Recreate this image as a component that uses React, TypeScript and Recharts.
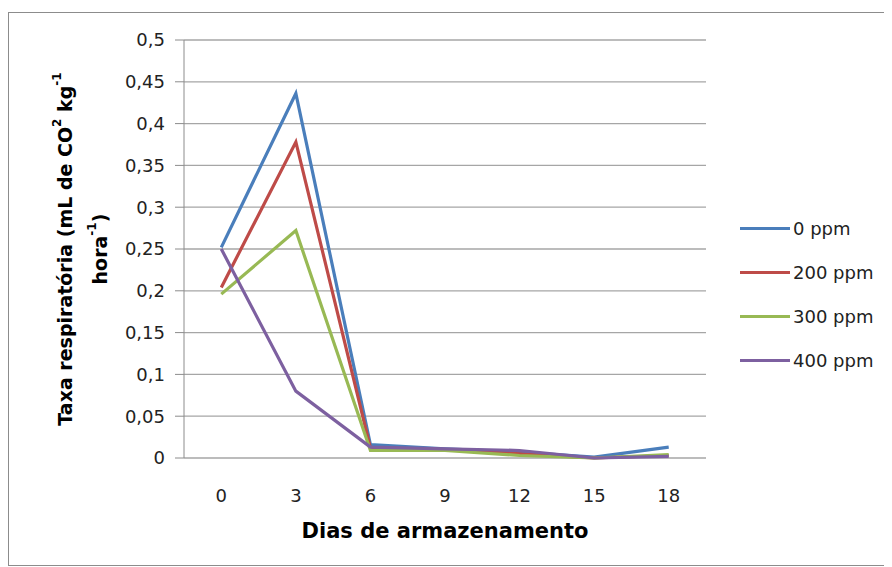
import React from 'react';
import { LineChart, Line, XAxis, YAxis, CartesianGrid } from 'recharts';

const dias = [0, 3, 6, 9, 12, 15, 18];
const ppm0 = [0.252, 0.436, 0.016, 0.011, 0.007, 0.001, 0.013];
const ppm200 = [0.204, 0.378, 0.012, 0.01, 0.005, 0.0, 0.003];
const ppm300 = [0.196, 0.272, 0.009, 0.009, 0.003, 0.0, 0.004];
const ppm400 = [0.25, 0.08, 0.013, 0.011, 0.009, 0.0, 0.002];
const yTicks = [0, 0.05, 0.1, 0.15, 0.2, 0.25, 0.3, 0.35, 0.4, 0.45, 0.5];
const boundaryTicks = [-1.5, 1.5, 4.5, 7.5, 10.5, 13.5, 16.5, 19.5];

const series = [
    { key: 'p0', name: '0 ppm', color: '#4a7ebb', values: ppm0 },
    { key: 'p200', name: '200 ppm', color: '#be4b48', values: ppm200 },
    { key: 'p300', name: '300 ppm', color: '#98b954', values: ppm300 },
    { key: 'p400', name: '400 ppm', color: '#7d60a0', values: ppm400 },
];

const data = dias.map((dia, i) => {
    const row: any = { dia };
    series.forEach(s => { row[s.key] = s.values[i]; });
    return row;
});

const FONT = '"DejaVu Sans", sans-serif';

function YTitle({ viewBox }: any) {
    const cy = viewBox.y + viewBox.height / 2;
    const x1 = 56;
    const x2 = 91;
    return (
        <g fontFamily={FONT} fontWeight={700} fontSize={19} fill="#000">
            <text transform={`translate(${x1}, ${cy}) rotate(-90)`} textAnchor="middle" dominantBaseline="central">
                Taxa respiratória (mL de CO<tspan fontSize={12} dy={-8}>2</tspan>
                <tspan dy={8}> kg</tspan><tspan fontSize={12} dy={-8}>-1</tspan>
            </text>
            <text transform={`translate(${x2}, ${cy}) rotate(-90)`} textAnchor="middle" dominantBaseline="central">
                hora<tspan fontSize={12} dy={-8}>-1</tspan><tspan dy={8}>)</tspan>
            </text>
        </g>
    );
}

export default function App() {
    return (
        <div style={{ position: 'relative', width: 880, height: 552, marginTop: 4, border: '1px solid #8c8c8c', background: '#fff' }}>
            <LineChart width={880} height={552} data={data} margin={{ top: 27, right: 183, bottom: 0, left: 0 }}>
                <CartesianGrid horizontal vertical={false} stroke="#a6a6a6" strokeWidth={1.3} />
                <XAxis
                    xAxisId="b"
                    type="number"
                    dataKey="dia"
                    domain={[-1.5, 19.5]}
                    ticks={boundaryTicks}
                    tick={false}
                    tickSize={8}
                    height={0}
                    stroke="#8c8c8c"
                    axisLine={{ stroke: '#8c8c8c' }}
                />
                <XAxis
                    xAxisId="main"
                    type="number"
                    dataKey="dia"
                    domain={[-1.5, 19.5]}
                    ticks={dias}
                    tickLine={false}
                    axisLine={false}
                    tickMargin={25}
                    height={107}
                    tick={{ fill: '#222', fontSize: 18, fontFamily: FONT }}
                    label={{ value: 'Dias de armazenamento', position: 'insideBottom', offset: 27, fill: '#000', fontSize: 21, fontWeight: 700, fontFamily: FONT }}
                />
                <YAxis
                    type="number"
                    domain={[0, 0.5]}
                    ticks={yTicks}
                    width={175}
                    tickSize={9}
                    tickMargin={10}
                    stroke="#8c8c8c"
                    tick={{ fill: '#222', fontSize: 18, fontFamily: FONT }}
                    tickFormatter={(v: number) => String(v).replace('.', ',')}
                    label={<YTitle />}
                />
                {series.map(s => (
                    <Line
                        key={s.key}
                        xAxisId="main"
                        type="linear"
                        dataKey={s.key}
                        name={s.name}
                        stroke={s.color}
                        strokeWidth={3.2}
                        dot={false}
                        isAnimationActive={false}
                    />
                ))}
            </LineChart>
            <div style={{ position: 'absolute', left: 731, top: 193, fontFamily: FONT, fontSize: 18, color: '#222' }}>
                {series.map(s => (
                    <div key={s.key} style={{ display: 'flex', alignItems: 'center', height: 44 }}>
                        <span style={{ display: 'inline-block', width: 50, height: 3, background: s.color, marginRight: 3 }} />
                        <span>{s.name}</span>
                    </div>
                ))}
            </div>
        </div>
    );
}
